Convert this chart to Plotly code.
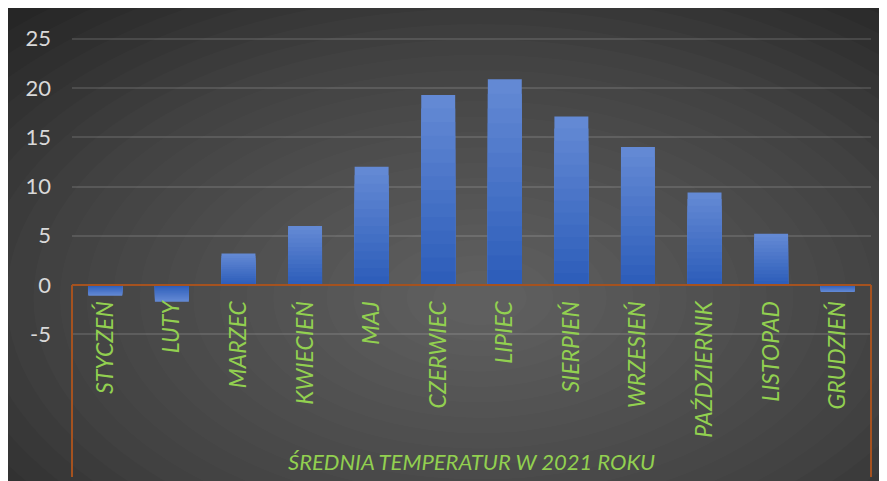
import plotly.graph_objects as go

months = ["STYCZEŃ", "LUTY", "MARZEC", "KWIECIEŃ", "MAJ", "CZERWIEC",
          "LIPIEC", "SIERPIEŃ", "WRZESIEŃ", "PAŹDZIERNIK", "LISTOPAD", "GRUDZIEŃ"]
temps = [-1.1, -1.7, 3.2, 6.0, 12.0, 19.3, 20.9, 17.1, 14.0, 9.4, 5.2, -0.7]
y_ticks = [-5, 0, 5, 10, 15, 20, 25]
y_tick_text = ["-5", "0", "5", "10", "15", "20", "25"]
axis_title = "ŚREDNIA TEMPERATUR W 2021 ROKU"

W, H = 887, 481
ML, MR, MT, MB = 64, 24, 12, 12
PW = W - ML - MR
PH = H - MT - MB
ZERO_PX = 277
px_per_unit = 9.85
y_top = (ZERO_PX - MT) / px_per_unit
y_bot = -((H - MB) - ZERO_PX) / px_per_unit
zero_pos = -y_bot / (y_top - y_bot)


def xp(px):
    return (px - ML) / PW


def yp(py):
    return ((H - MB) - py) / PH


fig = go.Figure()
# bars drawn as overlaid slices to imitate the vertical gradient fill
top_rgb = (99, 137, 212)
bot_rgb = (46, 94, 186)
K = 14
for k in range(K):
    frac = 1 - k / K
    t = k / (K - 1)
    c = tuple(round(top_rgb[j] + (bot_rgb[j] - top_rgb[j]) * t) for j in range(3))
    fig.add_trace(go.Bar(
        x=months, y=[v * frac for v in temps],
        marker=dict(color="rgb(%d,%d,%d)" % c, line=dict(width=0)),
        width=0.51, hoverinfo="skip" if k else None,
    ))

shapes = []
# radial-ish background glow
N = 24
cx, cy = 472, 290
for i in range(N):
    f = 1 - i / N
    rx, ry = 640 * f + 20, 370 * f + 12
    shapes.append(dict(type="circle", xref="paper", yref="paper", layer="below",
                       x0=xp(cx - rx), x1=xp(cx + rx), y0=yp(cy + ry), y1=yp(cy - ry),
                       fillcolor="rgba(255,255,255,0.0155)", line=dict(width=0)))
# orange frame of category axis
for xv in (0, 1):
    shapes.append(dict(type="line", xref="paper", yref="paper", layer="above",
                       x0=xv, x1=xv, y0=zero_pos, y1=0,
                       line=dict(color="#a5521f", width=2)))

fig.update_layout(
    width=W, height=H,
    margin=dict(l=ML, r=MR, t=MT, b=MB),
    paper_bgcolor="#262626",
    plot_bgcolor="rgba(0,0,0,0)",
    showlegend=False,
    barmode="overlay",
    shapes=shapes,
    xaxis=dict(
        anchor="free", position=zero_pos,
        range=[-0.5, 11.5],
        showgrid=False, zeroline=False,
        showline=True, linecolor="#a5521f", linewidth=2,
        ticks="", tickangle=-90, ticklabelstandoff=6,
        tickfont=dict(family="Lato", size=23, color="#92d050", style="italic"),
    ),
    yaxis=dict(
        range=[y_bot, y_top],
        tickvals=y_ticks, ticktext=y_tick_text,
        showgrid=True, gridcolor="rgba(255,255,255,0.12)", gridwidth=1.5,
        zeroline=False, showline=False, ticks="",
        ticklabelstandoff=20,
        tickfont=dict(family="Lato", size=22, color="#d9d9d9"),
    ),
    annotations=[dict(
        text=axis_title, xref="paper", yref="paper", x=0.5, y=yp(453),
        xanchor="center", yanchor="middle", showarrow=False,
        font=dict(family="Lato", size=22, color="#92d050", style="italic"),
    )],
)

fig.write_html("out.html")
